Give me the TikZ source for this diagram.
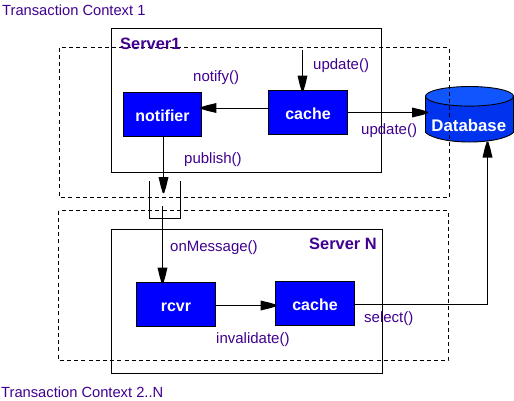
\documentclass[tikz,border=0pt]{standalone}
\usepackage{fontspec}
\setmainfont{Liberation Sans}
\usetikzlibrary{arrows.meta,calc}
\definecolor{lbl}{HTML}{400090}
\definecolor{boxblue}{HTML}{0000FF}
\definecolor{dbbody}{HTML}{0033EE}
\definecolor{dbtop}{HTML}{1155FF}
\pgfdeclarearrow{
  name=HeavyHead,
  parameters={0},
  setup code={\pgfarrowssettipend{0pt}\pgfarrowssetbackend{-16pt}\pgfarrowssetlineend{-14pt}\pgfarrowshullpoint{0pt}{0pt}\pgfarrowshullpoint{-16pt}{5pt}\pgfarrowshullpoint{-16pt}{-5pt}},
  drawing code={\pgfsetfillcolor{black}
    \pgfpathmoveto{\pgfqpoint{0pt}{0.7pt}}
    \pgfpathlineto{\pgfqpoint{-6pt}{2.6pt}}
    \pgfpathlineto{\pgfqpoint{-16pt}{5pt}}
    \pgfpathlineto{\pgfqpoint{-16pt}{-5pt}}
    \pgfpathlineto{\pgfqpoint{-6pt}{-2.6pt}}
    \pgfpathlineto{\pgfqpoint{0pt}{-0.7pt}}
    \pgfpathclose\pgfusepathqfill},
}
\tikzset{
  x=1pt,y=-1pt,
  thinline/.style={line width=0.9pt,black},
  serverbox/.style={thinline,draw,fill=white},
  ctxbox/.style={black,line width=0.9pt,dash pattern=on 4pt off 3.2pt},
  bluebox/.style={draw=black,line width=0.9pt,fill=boxblue,inner sep=0,text=white,text height=14.5pt,text depth=0pt,font=\fontsize{16}{18}\selectfont\bfseries},
  conn/.style={thinline,-{HeavyHead},shorten >=-1.5pt},
  plain/.style={thinline},
  lab/.style={text=lbl,inner sep=0,anchor=west,font=\fontsize{15}{16}\selectfont},
  bigl/.style={text=lbl,inner sep=0,anchor=west,font=\fontsize{14.7}{16}\selectfont},
  srv/.style={text=lbl,inner sep=0,anchor=west,font=\fontsize{16.4}{18}\selectfont\bfseries},
  dbl/.style={text=white,inner sep=0,font=\fontsize{16.8}{18}\selectfont\bfseries},
}
\begin{document}
\begin{tikzpicture}
\useasboundingbox[fill=white] (0,0) rectangle (514,400);
% servers
\draw[serverbox] (111.5,28.5) rectangle (381.5,172.5);
\draw[serverbox] (111.5,229.5) rectangle (382.5,373);
% database
\path[thinline,draw,fill=dbbody] (425.5,96) -- (425.5,132.5) .. controls (432,138.5) and (450,142) .. (469.5,142) .. controls (489,142) and (507,138.5) .. (513.5,132.5) -- (513.5,96) -- cycle;
\path[thinline,draw,fill=dbtop] (469.5,96.3) ellipse[x radius=44,y radius=9.8];
% contexts
\draw[ctxbox] (59.5,47.5) rectangle (449.5,197);
\draw[ctxbox] (58.5,210.5) rectangle (448.5,360.5);
% nodes
\node[bluebox,minimum width=78pt,minimum height=43.5pt] (notifier) at (162.5,114.25) {notifier};
\node[bluebox,minimum width=79pt,minimum height=44pt] (cacheA) at (308,112.5) {cache};
\node[bluebox,minimum width=79pt,minimum height=43.5pt] (rcvr) at (176,304.25) {rcvr};
\node[bluebox,minimum width=79pt,minimum height=44pt] (cacheB) at (315,303.5) {cache};
\node[dbl] (db) at (468.8,125.5) {Database};
\coordinate (dbleft) at (426.5,112.5);
\coordinate (dbbot) at (487.5,143);
\coordinate (updin) at (302.5,50);
\coordinate (qtopl) at (149.5,181);
\coordinate (qbotl) at (149.5,218.5);
\coordinate (qbotr) at (180.5,218.5);
\coordinate (qtopr) at (180.5,181);
\coordinate (qin) at (163.5,191.5);
\coordinate (qout) at (162.5,206);
% queue
\draw[plain] (qtopl) -- (qbotl) -- (qbotr) -- (qtopr);
% connectors
\draw[conn] (updin) -- (updin |- cacheA.north);
\draw[conn] (cacheA.west |- 0,108) -- (notifier.east |- 0,108);
\draw[conn] (cacheA.east) -- (dbleft);
\draw[conn] (notifier.south -| qin) -- (qin);
\draw[conn] (qout) -- (qout |- rcvr.north);
\draw[conn] (rcvr.east |- 0,305.5) -- (cacheB.west |- 0,305.5);
\draw[conn] (cacheB.east |- 0,304.5) -| (dbbot);
% labels
\node[bigl] (t1) at (2,10.5) {Transaction Context 1};
\node[bigl] (t2) at (1,392) {Transaction Context 2..N};
\node[srv] (s1) at (120,43.5) {Server1};
\node[srv] (s2) at (309,244) {Server N};
\node[lab] (l1) at (193,78) {notify()};
\node[lab] (l2) at (313,66) {update()};
\node[lab] (l3) at (361,131) {update()};
\node[lab] (l4) at (184,160) {publish()};
\node[lab] (l5) at (170,248) {onMessage()};
\node[lab] (l6) at (216,340) {invalidate()};
\node[lab] (l7) at (364,319) {select()};
\end{tikzpicture}
\end{document}
